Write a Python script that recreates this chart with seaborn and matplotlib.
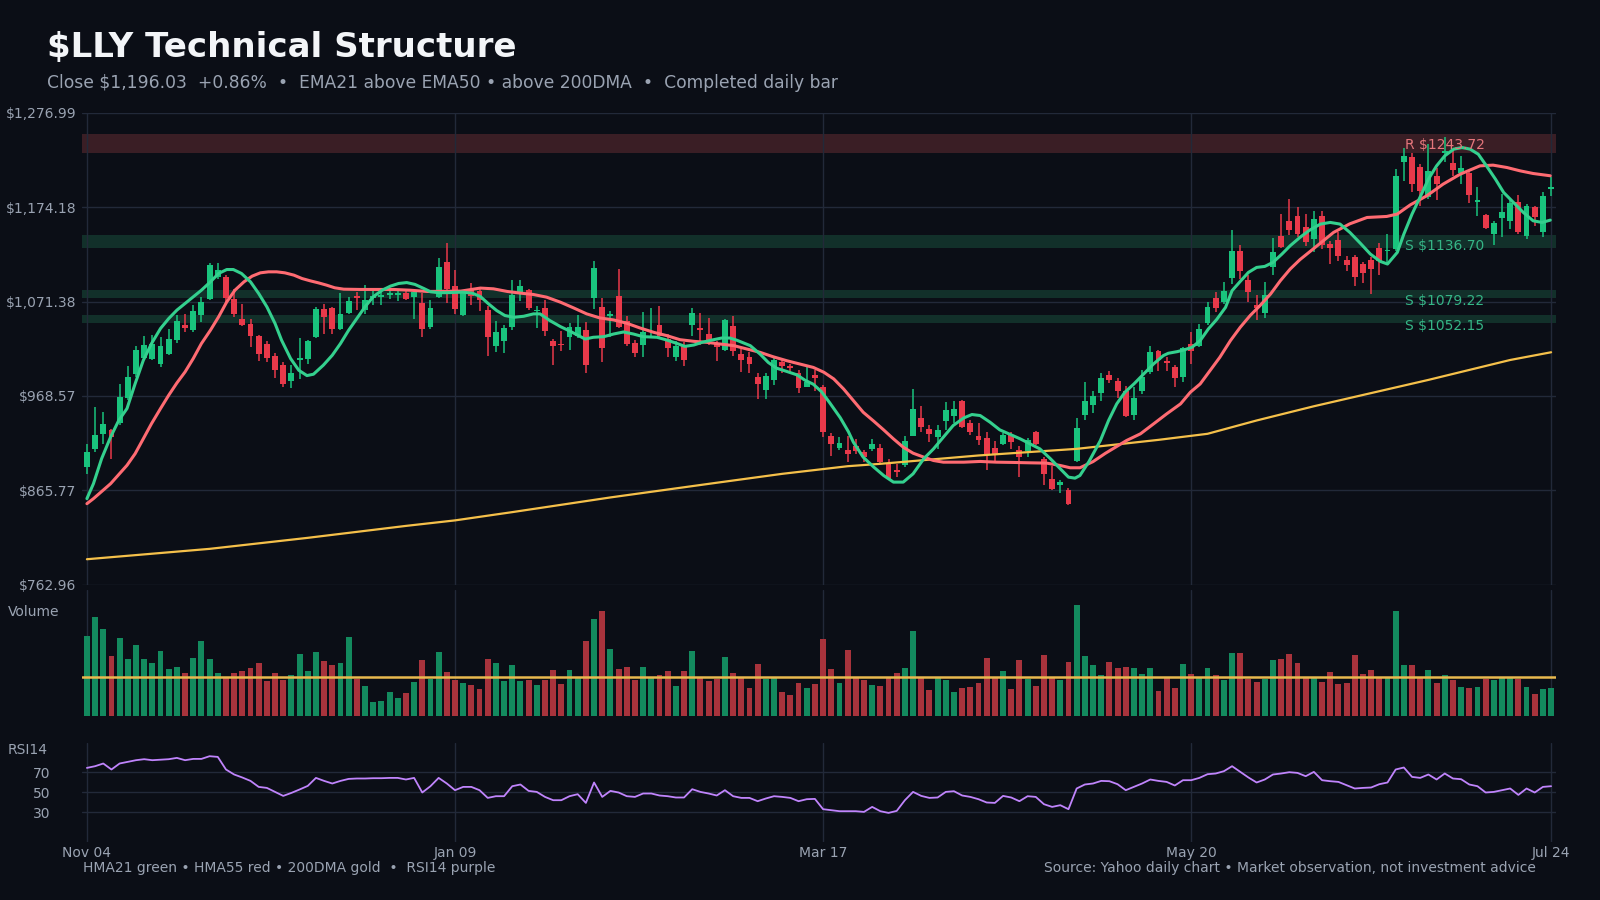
import numpy as np
import matplotlib
matplotlib.use("Agg")
import matplotlib.pyplot as plt
import matplotlib.transforms as mtransforms
from matplotlib.ticker import FuncFormatter
import seaborn as sns

# --- daily bars, Nov 04 -> Jul 24 (180 sessions) ---
opens = [891.2, 910.4, 926.8, 931.1, 939.1, 966.4, 992.9, 1010.0, 1008.5, 1003.1,
         1014.0, 1029.2, 1045.6, 1040.1, 1056.5, 1074.6, 1098.3, 1098.3, 1074.6, 1052.8,
         1046.7, 1033.6, 1024.9, 1011.8, 1002.7, 984.9, 1008.2, 1009.3, 1032.9, 1063.7,
         1064.8, 1041.2, 1059.0, 1077.2, 1061.9, 1075.0, 1076.5, 1078.3, 1078.6, 1080.8,
         1076.5, 1069.9, 1043.8, 1076.5, 1114.2, 1088.1, 1057.2, 1084.1, 1082.7, 1062.6,
         1023.3, 1028.0, 1043.3, 1081.6, 1084.1, 1060.8, 1064.4, 1028.7, 1025.1, 1032.4,
         1034.2, 1040.8, 1075.0, 1065.9, 1055.4, 1077.9, 1050.6, 1026.5, 1024.4, 1032.4,
         1046.2, 1030.5, 1010.5, 1023.3, 1046.2, 1042.6, 1036.0, 1025.1, 1018.5, 1045.1,
         1014.1, 1011.2, 989.3, 974.8, 986.4, 1005.8, 1000.7, 993.4, 978.8, 991.5,
         978.4, 924.8, 912.1, 909.9, 913.5, 907.0, 910.9, 912.0, 894.6, 888.1,
         892.8, 925.4, 944.6, 932.0, 923.6, 941.0, 947.2, 963.5, 939.2, 925.1,
         922.9, 911.3, 916.4, 926.5, 910.2, 908.4, 929.4, 900.1, 877.6, 871.4,
         865.6, 897.5, 948.3, 959.1, 971.5, 991.8, 985.3, 974.4, 948.3, 973.7,
         994.3, 1017.9, 1007.0, 1000.5, 988.9, 1025.2, 1023.3, 1048.0, 1075.2, 1070.5,
         1096.6, 1126.7, 1095.1, 1067.9, 1058.9, 1108.5, 1143.0, 1159.3, 1164.8, 1152.8,
         1139.0, 1164.8, 1133.9, 1138.6, 1116.5, 1120.2, 1112.2, 1116.5, 1129.6, 1126.0,
         1128.5, 1222.8, 1229.0, 1218.1, 1185.4, 1208.3, 1232.6, 1221.7, 1210.8, 1210.8,
         1179.3, 1165.8, 1144.8, 1161.9, 1158.6, 1180.0, 1142.3, 1174.5, 1146.6, 1193.4]
highs = [915.9, 956.6, 950.8, 933.0, 982.0, 1000.9, 1022.7, 1033.6, 1034.7, 1032.9,
         1040.9, 1056.5, 1058.3, 1067.4, 1076.5, 1112.8, 1113.5, 1100.1, 1084.8, 1068.5,
         1052.8, 1034.7, 1028.5, 1015.4, 1005.6, 1002.7, 1032.1, 1029.9, 1065.6, 1068.5,
         1065.6, 1080.1, 1076.5, 1081.9, 1089.2, 1085.5, 1083.7, 1085.5, 1083.7, 1083.0,
         1084.5, 1080.8, 1072.8, 1119.0, 1135.3, 1105.5, 1082.3, 1091.4, 1087.1, 1067.0,
         1050.6, 1046.2, 1095.1, 1095.1, 1085.2, 1066.6, 1073.2, 1030.5, 1039.7, 1048.4,
         1057.2, 1049.5, 1115.1, 1075.4, 1060.8, 1107.1, 1056.1, 1029.4, 1060.4, 1064.4,
         1067.0, 1036.0, 1028.7, 1026.9, 1064.4, 1059.3, 1053.5, 1028.7, 1052.8, 1056.1,
         1019.6, 1016.0, 993.4, 993.4, 1009.4, 1008.7, 1003.2, 996.3, 999.6, 996.6,
         980.6, 928.1, 923.7, 924.8, 921.8, 909.8, 921.8, 916.4, 900.1, 894.6,
         924.4, 976.2, 957.7, 937.4, 937.4, 961.7, 963.5, 964.2, 942.5, 939.6,
         929.1, 920.0, 928.0, 929.4, 913.5, 922.9, 930.2, 901.9, 891.7, 877.2,
         868.5, 944.6, 984.2, 974.4, 993.2, 996.1, 988.2, 979.8, 978.0, 996.9,
         1023.0, 1018.6, 1010.6, 1002.7, 1022.3, 1037.9, 1046.9, 1070.5, 1082.1, 1093.0,
         1149.5, 1133.2, 1100.2, 1078.4, 1093.0, 1140.5, 1166.6, 1182.9, 1174.5, 1166.6,
         1170.2, 1170.2, 1136.8, 1146.6, 1121.2, 1122.3, 1114.0, 1119.4, 1135.0, 1144.8,
         1215.5, 1238.4, 1233.6, 1221.0, 1242.7, 1217.3, 1250.0, 1235.5, 1230.0, 1213.7,
         1196.3, 1166.6, 1159.3, 1189.0, 1182.2, 1187.6, 1177.5, 1175.6, 1190.1, 1206.5]
lows = [883.2, 907.5, 915.9, 900.3, 936.6, 963.8, 989.3, 1007.4, 1008.2, 1000.2,
        1012.9, 1026.3, 1038.3, 1038.3, 1049.2, 1072.8, 1096.4, 1069.2, 1054.7, 1044.5,
        1021.9, 1006.7, 1005.6, 988.5, 978.4, 977.6, 987.5, 1003.8, 1032.1, 1036.5,
        1036.5, 1040.1, 1058.3, 1062.6, 1058.3, 1067.4, 1067.4, 1074.6, 1071.7, 1072.8,
        1052.1, 1032.9, 1041.9, 1075.7, 1069.9, 1058.3, 1056.1, 1068.1, 1060.8, 1011.6,
        1016.7, 1014.9, 1040.8, 1071.7, 1062.3, 1042.2, 1034.2, 1002.5, 1017.1, 1018.9,
        1031.6, 993.0, 1063.7, 1005.0, 1033.1, 1042.6, 1023.3, 1011.2, 1011.2, 1031.6,
        1033.1, 1010.5, 1006.1, 1001.4, 1034.2, 1024.4, 1024.4, 1006.8, 1017.8, 1012.3,
        994.1, 993.0, 964.9, 964.9, 980.6, 993.0, 993.0, 972.2, 977.8, 974.1,
        923.7, 903.0, 909.2, 897.0, 904.8, 896.4, 908.4, 894.6, 877.2, 880.1,
        891.0, 924.4, 929.1, 918.9, 910.9, 931.6, 938.8, 933.8, 926.5, 914.6,
        887.4, 898.2, 915.6, 910.9, 880.1, 901.9, 914.6, 871.1, 866.4, 862.7,
        849.7, 896.4, 942.8, 950.1, 963.5, 982.4, 966.4, 946.1, 942.5, 970.8,
        992.5, 995.4, 996.1, 978.0, 983.5, 1003.4, 1021.5, 1046.2, 1059.6, 1068.7,
        1090.4, 1095.9, 1071.2, 1051.6, 1053.4, 1100.6, 1129.6, 1143.7, 1141.2, 1132.1,
        1124.9, 1128.5, 1112.2, 1115.8, 1104.2, 1087.9, 1091.5, 1079.5, 1100.6, 1112.2,
        1126.7, 1202.8, 1190.9, 1175.6, 1182.9, 1182.2, 1222.8, 1208.3, 1199.2, 1178.2,
        1164.8, 1150.2, 1133.2, 1141.2, 1150.2, 1144.8, 1139.4, 1153.1, 1141.2, 1186.5]
closes = [907.5, 925.7, 937.7, 923.9, 967.5, 989.3, 1018.3, 1023.8, 1024.9, 1022.7,
          1030.3, 1050.3, 1042.3, 1060.8, 1071.0, 1110.9, 1105.5, 1075.4, 1058.3, 1045.6,
          1034.0, 1014.7, 1010.0, 997.3, 982.0, 994.0, 1010.0, 1028.5, 1063.0, 1054.7,
          1041.2, 1057.6, 1071.7, 1075.4, 1072.8, 1077.2, 1079.0, 1080.1, 1080.8, 1073.9,
          1081.9, 1041.2, 1064.8, 1109.2, 1084.8, 1063.0, 1080.9, 1077.9, 1072.5, 1032.4,
          1038.6, 1042.2, 1079.0, 1087.8, 1064.1, 1062.3, 1038.9, 1023.3, 1023.6, 1043.3,
          1044.0, 1002.5, 1107.5, 1020.3, 1057.9, 1044.0, 1025.1, 1014.9, 1038.6, 1034.2,
          1034.2, 1020.3, 1023.3, 1007.9, 1059.0, 1040.8, 1028.7, 1021.4, 1051.7, 1017.1,
          1007.6, 1003.2, 982.0, 990.4, 1007.6, 1001.1, 999.3, 977.0, 983.9, 988.6,
          929.6, 916.4, 917.5, 905.5, 909.1, 901.9, 916.4, 896.4, 878.3, 885.2,
          920.0, 954.4, 934.5, 926.9, 930.9, 953.3, 954.8, 934.5, 929.1, 920.7,
          904.4, 904.8, 926.5, 918.9, 901.9, 920.7, 916.4, 883.0, 866.7, 874.3,
          850.4, 933.8, 963.5, 968.2, 988.5, 986.4, 974.4, 947.2, 966.4, 988.9,
          1016.1, 1007.7, 1004.5, 987.8, 1020.8, 1017.9, 1041.8, 1065.0, 1063.9, 1083.2,
          1126.7, 1104.2, 1081.3, 1064.3, 1078.8, 1125.6, 1131.0, 1149.2, 1144.8, 1135.7,
          1161.1, 1132.8, 1129.2, 1121.2, 1111.4, 1097.7, 1102.0, 1106.7, 1115.8, 1127.8,
          1208.3, 1230.0, 1199.2, 1191.2, 1213.7, 1199.2, 1235.5, 1214.4, 1217.3, 1187.6,
          1182.2, 1151.3, 1156.8, 1169.1, 1178.5, 1146.6, 1175.6, 1162.9, 1185.8, 1196.0]
volume_m = [7.17, 8.88, 7.80, 5.37, 6.99, 5.10, 6.36, 5.10, 4.74, 5.82,
            4.20, 4.38, 3.84, 5.19, 6.72, 5.10, 3.84, 3.48, 3.84, 4.02,
            4.29, 4.74, 3.12, 3.84, 3.21, 3.66, 5.55, 4.02, 5.73, 4.92,
            4.56, 4.74, 7.08, 3.30, 2.67, 1.23, 1.32, 2.13, 1.59, 2.04,
            3.03, 5.01, 3.30, 5.73, 3.93, 3.21, 2.94, 2.76, 2.40, 5.10,
            4.74, 3.12, 4.56, 3.12, 3.21, 2.76, 3.21, 4.11, 2.85, 4.11,
            3.48, 6.72, 8.70, 9.42, 6.00, 4.20, 4.38, 3.21, 4.38, 3.48,
            3.66, 4.02, 2.67, 4.02, 5.82, 3.39, 3.12, 3.30, 5.28, 3.84,
            3.48, 2.49, 4.65, 3.30, 3.39, 2.13, 1.86, 2.94, 2.49, 2.85,
            6.90, 4.20, 2.94, 5.91, 3.48, 3.21, 2.76, 2.67, 3.48, 3.84,
            4.29, 7.62, 3.48, 2.31, 3.48, 3.21, 2.13, 2.49, 2.58, 2.94,
            5.19, 3.48, 4.02, 2.40, 5.01, 3.30, 2.67, 5.46, 3.48, 3.21,
            4.83, 9.96, 5.37, 4.56, 3.66, 4.83, 4.29, 4.38, 4.29, 3.75,
            4.29, 2.22, 3.48, 2.49, 4.65, 3.75, 3.48, 4.29, 3.66, 3.21,
            5.64, 5.64, 3.30, 3.03, 3.30, 5.01, 5.10, 5.55, 4.74, 3.48,
            3.48, 3.03, 3.93, 2.85, 2.94, 5.46, 3.75, 4.11, 3.48, 3.48,
            9.42, 4.56, 4.56, 3.48, 4.11, 2.94, 3.66, 3.21, 2.58, 2.49,
            2.58, 3.30, 3.21, 3.48, 3.48, 3.30, 2.58, 1.95, 2.40, 2.49]
rsi14 = [74.6, 76.3, 79.0, 73.0, 79.0, 80.6, 82.3, 83.3, 82.3, 82.8,
         83.3, 84.6, 82.3, 83.6, 83.6, 86.3, 85.6, 73.0, 68.0, 65.0,
         61.6, 55.6, 54.6, 50.6, 46.6, 49.6, 53.0, 56.6, 64.6, 61.6,
         59.0, 61.6, 63.6, 64.0, 64.0, 64.3, 64.3, 64.6, 64.6, 63.0,
         64.6, 50.0, 56.3, 64.6, 59.0, 52.3, 55.6, 55.6, 52.3, 44.6,
         46.3, 46.3, 56.3, 58.0, 51.6, 50.6, 45.6, 42.3, 42.3, 46.3,
         48.3, 39.6, 60.0, 45.6, 51.6, 50.0, 46.3, 45.6, 49.0, 49.0,
         47.0, 46.3, 45.0, 45.0, 53.3, 50.6, 49.0, 47.0, 52.3, 46.3,
         44.6, 44.6, 41.3, 44.0, 46.3, 45.6, 44.6, 41.3, 43.3, 43.6,
         33.3, 32.3, 31.3, 31.3, 31.3, 30.6, 35.6, 31.3, 29.6, 31.6,
         42.3, 50.6, 46.6, 44.6, 45.0, 50.6, 51.3, 47.0, 45.6, 43.3,
         40.0, 39.6, 46.6, 45.0, 41.3, 46.3, 45.6, 38.3, 35.6, 37.3,
         33.3, 54.0, 58.0, 59.0, 61.6, 61.3, 58.3, 52.3, 55.6, 59.0,
         63.0, 61.6, 60.6, 57.0, 62.3, 62.3, 64.6, 68.3, 69.0, 71.3,
         76.3, 70.6, 65.0, 60.0, 63.0, 68.0, 69.0, 70.3, 69.6, 66.3,
         70.6, 62.3, 61.3, 60.6, 57.3, 54.0, 54.6, 55.0, 58.3, 60.0,
         73.0, 75.0, 65.6, 64.6, 68.0, 63.0, 69.0, 64.0, 63.3, 58.0,
         56.3, 50.0, 50.6, 52.3, 54.0, 47.6, 54.0, 50.0, 55.6, 56.3]

# --- overlays (bar index, price) ---
hma21_x = [0, 0.8, 1.8, 2.9, 3.9, 4.9, 5.9, 6.9, 7.9, 9, 10, 11, 12, 13, 14, 15.1, 16.1, 17.1,
           17.9, 18.9, 20, 21, 22, 23, 23.8, 24.9, 25.9, 26.9, 27.7, 28.9, 30, 31, 32, 33, 34,
           35, 36.1, 37.1, 38.1, 39.1, 40.1, 41.2, 42, 43, 44, 45.9, 47.1, 48.1, 49.1, 50.1,
           51.1, 52.2, 53.4, 54.6, 55.4, 56.6, 57.9, 59.1, 60.1, 60.9, 61.9, 63.2, 64.4, 65.6,
           66.8, 68, 69.7, 70.9, 72.1, 73.1, 74.2, 75.2, 76.4, 77.6, 78.6, 79.4, 81.1, 82.3,
           83.3, 84.3, 85.6, 86.8, 87.8, 88.8, 89.8, 90.8, 92.1, 93.1, 93.7, 94.9, 96.2, 97.4,
           98.6, 99.8, 101, 102.3, 103.5, 104.7, 105.9, 107.2, 108.2, 109.2, 110.4, 111.6,
           112.9, 114.1, 115.3, 116.5, 117.8, 119, 120, 120.8, 121.4, 122.5, 123.9, 124.9,
           125.9, 126.9, 128, 129.2, 130.4, 131.6, 132.2, 133.3, 134.1, 135.1, 136.1, 137.1,
           138.1, 139.2, 140, 141, 142, 143, 144, 145, 146.1, 147.1, 148.3, 149.5, 150.8, 152,
           153.2, 154.4, 155.7, 156.9, 158.1, 159, 160.2, 161, 162, 163, 164, 165, 166, 167.1,
           168.1, 169.1, 170.1, 171.1, 172.2, 173.2, 174.4, 175.6, 176.8, 177.9, 178.9]
hma21_y = [856.7, 873.0, 900.3, 923.9, 942.0, 954.8, 982.0, 1007.4, 1025.6, 1042.0, 1052.8,
           1062.0, 1069.2, 1076.5, 1083.7, 1092.8, 1101.9, 1106.2, 1106.2, 1101.9, 1092.8,
           1080.1, 1065.6, 1047.4, 1029.2, 1009.3, 996.5, 990.7, 992.2, 1002.0, 1012.9,
           1025.6, 1040.1, 1052.8, 1065.6, 1076.5, 1083.7, 1088.1, 1091.0, 1092.0, 1090.0,
           1085.5, 1082.0, 1081.0, 1081.0, 1081.6, 1080.5, 1076.8, 1068.8, 1061.5, 1056.1,
           1054.2, 1055.3, 1057.9, 1057.9, 1050.6, 1044.0, 1038.9, 1034.2, 1030.5, 1032.4,
           1033.1, 1036.0, 1038.2, 1036.0, 1033.1, 1032.4, 1029.4, 1025.8, 1022.5, 1024.0,
           1026.9, 1029.4, 1031.6, 1031.6, 1029.4, 1023.3, 1014.1, 1005.0, 998.8, 995.1,
           991.5, 985.6, 981.3, 973.2, 961.2, 944.8, 929.5, 918.2, 901.9, 891.0, 881.9, 874.7,
           874.7, 883.7, 900.1, 910.9, 923.6, 936.3, 944.6, 948.3, 947.2, 940.0, 931.6, 926.5,
           921.8, 916.4, 910.9, 900.1, 889.2, 880.1, 879.0, 881.9, 897.0, 920.0, 941.8, 959.9,
           972.6, 981.6, 992.5, 1003.4, 1012.5, 1015.0, 1016.8, 1018.6, 1021.5, 1028.8,
           1041.5, 1051.6, 1065.0, 1083.2, 1093.3, 1103.1, 1108.5, 1109.6, 1114.0, 1123.1,
           1132.1, 1141.2, 1149.2, 1155.7, 1157.5, 1155.7, 1146.6, 1134.6, 1123.1, 1115.1,
           1112.2, 1124.9, 1144.8, 1166.6, 1185.4, 1204.6, 1219.1, 1230.0, 1237.3, 1239.1,
           1237.3, 1231.8, 1219.1, 1204.6, 1190.1, 1179.3, 1168.4, 1159.3, 1157.5, 1160.0]
hma55_x = [0, 0.8, 2.9, 4.9, 5.9, 6.9, 7.9, 9, 10, 11, 12, 13, 14, 15.1, 16.1, 17.1, 18.1, 19.2,
           20.2, 21.2, 22.2, 23.2, 24.2, 25.3, 26.3, 27.3, 28.3, 29.3, 30.3, 31.4, 33.4, 37.5,
           39.5, 41.6, 45.7, 48.1, 49.7, 51.4, 53, 54.6, 56.2, 57.9, 59.5, 61.1, 62.7, 64.4,
           66, 67.6, 69.3, 70.9, 72.5, 74.2, 75.8, 77.4, 79.1, 80.7, 82.3, 83.9, 85.6, 87.2,
           88.8, 90.1, 91.3, 92.5, 93.7, 94.9, 96.2, 97.4, 98.6, 99.8, 101, 102.3, 103.5,
           104.7, 107.2, 109.2, 111.2, 113.3, 115.3, 117.3, 119, 120.2, 121.4, 123, 124.5,
           127.1, 128.8, 130.4, 132, 133.7, 134.9, 136.1, 137.3, 138.5, 139.8, 141, 142.2,
           143.4, 144.7, 145.9, 147.1, 148.3, 150.4, 152.4, 154.4, 156.5, 158.9, 160.2, 161.8,
           163.8, 165.8, 167.9, 170.3, 171.9, 173.6, 175.2, 176.8, 178.9]
hma55_y = [851.2, 856.7, 873.0, 893.0, 905.7, 922.0, 938.4, 954.8, 969.3, 982.7, 994.7,
           1009.3, 1025.6, 1040.1, 1054.7, 1071.0, 1083.7, 1092.8, 1099.0, 1102.6, 1103.7,
           1103.7, 1102.6, 1100.1, 1096.4, 1093.9, 1091.7, 1089.2, 1086.3, 1084.8, 1084.5,
           1084.5, 1083.7, 1082.3, 1082.7, 1086.0, 1085.2, 1082.3, 1080.5, 1079.0, 1076.1,
           1070.6, 1064.4, 1057.9, 1053.5, 1051.3, 1047.7, 1042.6, 1037.8, 1034.2, 1029.8,
           1028.0, 1026.9, 1025.1, 1023.3, 1019.6, 1016.0, 1011.2, 1006.8, 1003.2, 999.6,
           994.3, 987.1, 976.2, 963.5, 950.8, 941.0, 931.6, 921.8, 912.7, 906.2, 901.9, 898.2,
           896.4, 896.4, 897.2, 896.4, 896.1, 895.7, 895.4, 892.8, 890.3, 890.3, 897.0, 906.0,
           920.0, 927.3, 938.1, 949.0, 959.9, 972.6, 981.6, 996.1, 1010.6, 1028.8, 1043.3,
           1056.0, 1066.8, 1079.5, 1094.0, 1106.7, 1117.0, 1132.1, 1146.6, 1156.0, 1162.9,
           1164.0, 1166.6, 1176.7, 1186.5, 1199.2, 1210.1, 1219.1, 1219.9, 1217.3, 1213.7,
           1210.8, 1208.3]
dma200_x = [0, 15, 27, 39, 45, 52, 64, 77, 85, 93, 97, 109, 121, 131, 137, 143, 150, 164, 174, 179]
dma200_y = [790.7, 802.0, 814.0, 827.0, 833.0, 842.0, 858.0, 874.0, 883.7, 892.0, 894.6,
            903.7, 910.9, 920.7, 927.3, 941.8, 957.3, 986.0, 1007.7, 1016.1]

zone_levels = [1243.72, 1136.70, 1079.22, 1052.15]
zone_kinds = ["R", "S", "S", "S"]
zone_half = [10.3, 6.9, 4.2, 4.2]

tick_pos = [0, 45, 90, 135, 179]
tick_labels = ["Nov 04", "Jan 09", "Mar 17", "May 20", "Jul 24"]
price_lo, price_hi = 762.96, 1276.99

# --- palette ---
BG = "#0b0e16"
GRID = "#222939"
TXT = "#9aa3b2"
UP, DOWN = "#19c37d", "#e8394a"
VUP, VDOWN = "#138a5e", "#a8333c"

sns.set_theme(style="darkgrid", rc={
    "axes.facecolor": BG, "figure.facecolor": BG, "grid.color": GRID,
    "axes.edgecolor": BG, "text.color": TXT, "xtick.color": TXT, "ytick.color": TXT,
    "grid.linewidth": 1.0,
})
plt.rcParams["font.family"] = ["DejaVu Sans"]
plt.rcParams["text.parse_math"] = False

o = np.array(opens); h = np.array(highs); l = np.array(lows); c = np.array(closes)
vol = np.array(volume_m)
x = np.arange(len(c))
up = c >= o

fig = plt.figure(figsize=(16, 9), dpi=100)
ax = fig.add_axes([0.05125, 0.35033, 0.92125, 0.52444])
ax_v = fig.add_axes([0.05125, 0.20478, 0.92125, 0.13967], sharex=ax)
ax_r = fig.add_axes([0.05125, 0.06389, 0.92125, 0.11111], sharex=ax)

# zones
for lvl, kind, hw in zip(zone_levels, zone_kinds, zone_half):
    col = "#3a1e25" if kind == "R" else "#12302a"
    ax.axhspan(lvl - hw, lvl + hw, color=col, zorder=0.5, lw=0)

# candles
ax.vlines(x, l, h, colors=np.where(up, UP, DOWN), linewidth=1.1, zorder=2)
body = np.maximum(np.abs(c - o), 1.6)
ax.bar(x, body, bottom=np.minimum(o, c), width=0.72, color=np.where(up, UP, DOWN),
       linewidth=0, zorder=3)

# overlays
sns.lineplot(x=dma200_x, y=dma200_y, ax=ax, color="#f5c04a", linewidth=1.6,
             estimator=None, sort=False, zorder=4)
sns.lineplot(x=hma55_x, y=hma55_y, ax=ax, color="#ff6b72", linewidth=2.2,
             estimator=None, sort=False, zorder=5)
sns.lineplot(x=hma21_x, y=hma21_y, ax=ax, color="#34d08e", linewidth=2.2,
             estimator=None, sort=False, zorder=6)

trans = mtransforms.blended_transform_factory(ax.transAxes, ax.transData)
for lvl, kind in zip(zone_levels, zone_kinds):
    if kind == "R":
        ax.text(0.8976, lvl - 2, f"R ${lvl:.2f}", transform=trans, color="#e5767c",
                fontsize=10, va="center", ha="left", zorder=7)
    else:
        shift = 5 if lvl > 1100 else 7
        ax.text(0.8976, lvl - shift, f"S ${lvl:.2f}", transform=trans, color="#35b586",
                fontsize=10, va="center", ha="left", zorder=7)

ax.set_ylim(price_lo, price_hi)
ax.set_yticks(np.linspace(price_lo, price_hi, 6))
ax.yaxis.set_major_formatter(FuncFormatter(lambda v, p: f"${v:,.2f}"))
ax.set_xlim(-0.6, len(c) - 0.4)
ax.set_xticks(tick_pos)
ax.tick_params(axis="both", length=0, labelsize=10, pad=4)
ax.tick_params(axis="x", labelbottom=False)
ax.set_xlabel(""); ax.set_ylabel("")

# volume
ax_v.bar(x, vol, width=0.72, color=np.where(up, VUP, VDOWN), linewidth=0, zorder=2)
ax_v.axhline(vol[-20:].mean(), color="#e9b94f", linewidth=1.8, zorder=3)
ax_v.set_ylim(0, vol.max() * 1.135)
ax_v.set_yticks([])
ax_v.grid(axis="y", visible=False)
ax_v.tick_params(axis="x", labelbottom=False, length=0)

# RSI
sns.lineplot(x=x, y=rsi14, ax=ax_r, color="#c084fc", linewidth=1.3, estimator=None, zorder=3)
ax_r.set_ylim(0, 100)
ax_r.set_yticks([30, 50, 70])
ax_r.set_xticks(tick_pos)
ax_r.set_xticklabels(tick_labels)
ax_r.tick_params(axis="y", length=0, labelsize=10, pad=23)
ax_r.tick_params(axis="x", length=0, labelsize=10, pad=2.5)
ax_r.set_xlabel(""); ax_r.set_ylabel("")

for a in (ax, ax_v, ax_r):
    for s in a.spines.values():
        s.set_visible(False)

fig.text(0.0294, 0.9367, "$LLY Technical Structure", fontsize=24.5, fontweight="bold",
         color="#f3f5f8", va="baseline")
fig.text(0.0294, 0.9026,
         "Close $1,196.03  +0.86%  \u2022  EMA21 above EMA50 \u2022 above 200DMA  \u2022  Completed daily bar",
         fontsize=12.35, color=TXT, va="baseline")
fig.text(0.005, 0.32, "Volume", fontsize=10, color=TXT, va="center")
fig.text(0.005, 0.1667, "RSI14", fontsize=10, color=TXT, va="center")
fig.text(0.0516, 0.0355, "HMA21 green \u2022 HMA55 red \u2022 200DMA gold  \u2022  RSI14 purple",
         fontsize=10, color=TXT, va="center")
fig.text(0.96, 0.0355, "Source: Yahoo daily chart \u2022 Market observation, not investment advice",
         fontsize=10, color=TXT, va="center", ha="right")

fig.savefig("out.png", dpi=100, facecolor=BG)
plt.close(fig)
